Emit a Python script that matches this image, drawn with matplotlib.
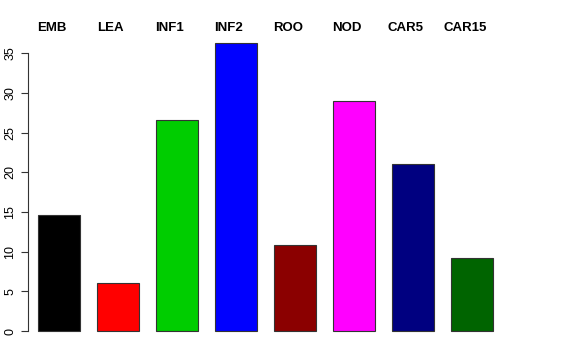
import matplotlib
matplotlib.use('Agg')
import matplotlib.pyplot as plt

# values
grupos  = ['EMB', 'LEA', 'INF1', 'INF2', 'ROO', 'NOD', 'CAR5', 'CAR15']
valores = [14.6, 6.05, 26.6, 36.3, 10.85, 29.0, 21.05, 9.2]
cores   = ['#000000', '#FF0000', '#00CD00', '#0000FF',
           '#8B0000', '#FF00FF', '#000080', '#006400']
yticks  = [0, 5, 10, 15, 20, 25, 30, 35]

plt.rcParams['font.family'] = ['Liberation Sans', 'DejaVu Sans']

fig = plt.figure(figsize=(5.76, 3.6), dpi=100, facecolor='white')
ax = fig.add_axes([28/576, 0.0486, 491/576, 0.912 - 0.0486])

pos = list(range(len(grupos)))
ax.bar(pos, valores, width=0.71, color=cores,
       edgecolor='#333333', linewidth=0.8)

ax.set_xlim(-0.525, 7.797)
ax.set_ylim(-1.45, 37.75)

# rótulos das categorias no topo
for x, g in zip(pos, grupos):
    ax.text(x - 0.12, 38.2, g, ha='center', va='center',
            fontsize=9.5, fontweight='bold', clip_on=False)

ax.set_xticks([])
ax.set_yticks(yticks)
ax.set_yticklabels([str(t) for t in yticks], rotation=90, va='center',
                   fontsize=9)
ax.tick_params(axis='y', length=5, width=0.8, color='#333333', pad=3.5)
ax.spines[['top', 'right', 'bottom']].set_visible(False)
ax.spines['left'].set_bounds(0, 35)
ax.spines['left'].set_color('#333333')
ax.spines['left'].set_linewidth(0.8)

plt.savefig('out.png', dpi=100, facecolor='white')
